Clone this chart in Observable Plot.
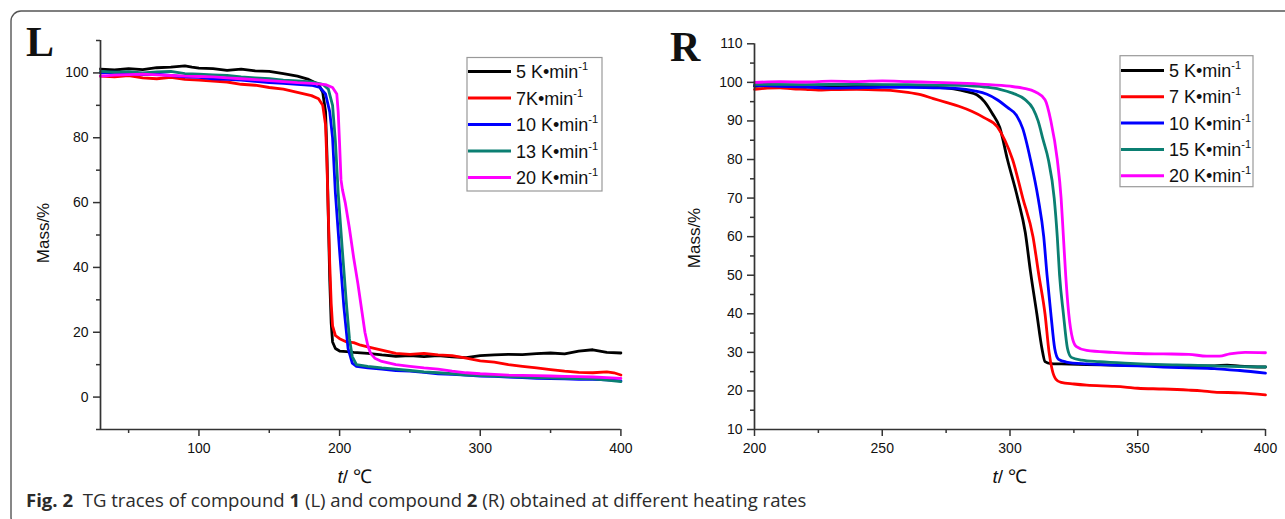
<!DOCTYPE html>
<html><head><meta charset="utf-8">
<script src="https://cdn.jsdelivr.net/npm/d3@7"></script>
<script src="https://cdn.jsdelivr.net/npm/@observablehq/plot@0.6"></script>
<style>
body{margin:0;background:#fff;}
#wrap{position:relative;width:1285px;height:519px;overflow:hidden;background:#fff;}
#wrap svg{position:absolute;left:0;top:0;}
</style></head><body><div id="wrap"></div>
<script>
// ---------- data ----------
const leftRates  = ["5 K•min", "7K•min", "10 K•min", "13 K•min", "20 K•min"];
const rightRates = ["5 K•min", "7 K•min", "10 K•min", "15 K•min", "20 K•min"];
const rateColors = ["#000000", "#ff0000", "#0000ff", "#0b7f72", "#ff00ff"];

// Compound 1 (L): [t /°C, mass /%]
const L_5K = [[30,101.2],[40,100.9],[50,101.3],[60,101.0],[70,101.6],[80,101.8],[90,102.2],[95,101.8],[100,101.5],[110,101.3],[120,100.8],[130,101.2],[140,100.6],[150,100.5],[160,99.8],[170,99.0],[178,98.0],[185,96.5],[188,94],[190,88],[191,75],[192,55],[193,36],[194,23],[195,17],[197,15],[200,14.2],[205,14],[210,13.8],[220,13.5],[230,13],[240,12.6],[250,12.8],[260,12.5],[270,12.8],[280,12.4],[290,12.2],[300,12.8],[310,13],[320,13.2],[330,13.1],[340,13.4],[350,13.6],[360,13.3],[370,14.2],[380,14.6],[390,13.8],[400,13.6]];
const L_7K = [[30,99],[40,98.8],[50,99.2],[60,98.5],[70,98.2],[80,98.6],[90,98],[100,97.8],[110,97.5],[120,97.2],[130,96.5],[140,96.2],[150,95.5],[160,95],[170,94],[180,93],[185,92],[188,90],[190,84],[191,72],[192,56],[193,41],[194,29],[195,22],[197,19],[200,18],[205,17],[210,16.8],[215,16],[220,15.5],[230,14.5],[240,13.5],[250,13.2],[260,13.5],[270,13],[280,12.8],[290,12],[300,11.2],[310,10.8],[320,10],[330,9.5],[340,9],[350,8.5],[360,8],[370,7.6],[380,7.5],[390,7.8],[395,7.5],[400,6.8]];
const L_10K = [[30,100],[40,100.2],[50,99.8],[60,99.5],[70,99.6],[80,99.2],[90,98.8],[100,98.6],[110,98.2],[120,98],[130,97.8],[140,97.4],[150,97],[160,96.8],[170,96.5],[180,96.2],[186,95.5],[190,93.5],[193,88],[195,80],[197,63],[200,45],[203,28],[206,15],[209,10.5],[212,9.5],[220,9],[230,8.6],[240,8.2],[250,8],[260,7.6],[270,7.2],[280,7],[290,6.8],[300,6.5],[310,6.4],[320,6.2],[330,6],[340,5.8],[350,5.7],[360,5.6],[370,5.5],[380,5.5],[390,5.3],[400,5]];
const L_13K = [[30,100.5],[40,100.2],[50,100.4],[60,100],[70,100.3],[80,100.5],[90,99.8],[100,99.6],[110,99.4],[120,99.2],[130,98.8],[140,98.5],[150,98.2],[160,97.8],[170,97.5],[180,97.2],[188,96.5],[192,95],[195,90],[197,79],[199,63],[202,45],[205,28],[207,18],[209,12.5],[212,10],[220,9.5],[230,9],[240,8.6],[250,8.2],[260,7.8],[270,7.5],[280,7.2],[290,6.8],[300,6.6],[310,6.5],[320,6.3],[330,6.2],[340,6],[350,5.9],[360,5.8],[370,5.7],[380,5.6],[390,5.2],[400,4.8]];
const L_20K = [[30,99],[40,99.3],[50,99.5],[60,99.6],[70,99.4],[80,99.2],[90,99],[100,98.9],[110,98.8],[120,98.5],[130,98.2],[140,97.9],[150,97.6],[160,97.3],[170,97],[180,96.8],[190,96.4],[195,95.5],[198,93.5],[199,88],[200,78],[201,67],[202,64],[204,60],[207,52],[210,43],[213,35],[216,26],[218,20],[220,16],[222,13.5],[225,12],[230,11],[240,10],[250,9.5],[260,9],[270,8.6],[280,8],[290,7.5],[300,7.2],[310,7],[320,6.8],[330,6.7],[340,6.6],[350,6.5],[360,6.4],[370,6.3],[380,6.2],[390,6],[400,5.8]];

// Compound 2 (R)
const R_5K = [[200,99],[210,99.2],[220,99],[230,98.8],[240,99],[250,99.1],[260,99],[270,98.8],[278,98.3],[283,97.6],[287,96.8],[290,95],[293,92],[296,88.3],[299,80],[303,70],[306,61],[308,51],[310.5,40],[312.5,31],[313.7,27.6],[316,27.1],[320,27],[330,26.8],[340,26.7],[350,26.6],[360,26.5],[370,26.5],[380,26.5],[385,26.7],[390,26.4],[400,26.2]];
const R_7K = [[200,98.2],[205,98.5],[210,98.6],[215,98.3],[220,98.2],[225,98],[230,98.1],[240,98.2],[250,98],[255,97.8],[260,97.4],[265,96.8],[270,95.8],[275,94.8],[280,93.8],[285,92.5],[290,90.8],[295,88.5],[298,85],[301,80],[305,70],[309,60],[311.3,50],[313.7,40],[315.3,30],[316.5,25.5],[318,23],[320,22.2],[325,21.8],[330,21.5],[340,21.2],[345,21],[350,20.7],[360,20.5],[370,20.2],[375,20],[380,19.7],[390,19.5],[400,19]];
const R_10K = [[200,99.2],[210,99],[220,98.8],[230,98.5],[240,98.6],[250,98.7],[260,98.7],[270,98.6],[280,98.4],[286,97.8],[291,96.9],[295,95.5],[299,93.5],[302.5,91.5],[305,88],[308,80],[311,70],[313.2,60],[314.5,50],[316,40],[317.5,31],[319,28.2],[322,27.5],[330,27],[340,26.7],[350,26.5],[360,26.2],[370,26],[380,25.8],[385,25.5],[390,25.3],[400,24.6]];
const R_15K = [[200,99.5],[220,99.4],[240,99.5],[260,99.4],[280,99.2],[290,98.8],[296,98.2],[301,97.2],[305.8,95.6],[309,93.2],[311,90],[313,85],[315,80],[317.3,70],[318.5,60],[319.4,50],[320.9,40],[322.5,31],[324,28.7],[328,28],[335,27.6],[345,27.2],[360,26.8],[370,26.7],[380,26.5],[390,26.3],[400,26.2]];
const R_20K = [[200,100],[210,100.2],[220,100.1],[230,100.3],[240,100.2],[250,100.4],[260,100.2],[270,100],[280,99.8],[290,99.5],[300,99],[305,98.5],[310,97.5],[313.7,95.5],[316,90],[318.5,80],[320,70],[320.9,60],[321.8,50],[323,40],[324.5,33.5],[326,31.5],[330,30.5],[340,30],[350,29.7],[360,29.6],[370,29.5],[377,29],[382,29],[386,29.6],[392,30],[400,29.9]];

// ticks
const leftXTicks = [100, 200, 300, 400];
const leftXMinor = [50, 150, 250, 350];
const leftYTicks = [0, 20, 40, 60, 80, 100];
const leftYMinor = [-10, 10, 30, 50, 70, 90, 110];
const rightXTicks = [200, 250, 300, 350, 400];
const rightXMinor = [225, 275, 325, 375];
const rightYTicks = [10, 20, 30, 40, 50, 60, 70, 80, 90, 100, 110];
const rightYMinor = [15, 25, 35, 45, 55, 65, 75, 85, 95, 105];

const panelLetters = ["L", "R"];
const yTitle = "Mass/%";
const captionParts = [["Fig. 2", true], ["  TG traces of compound ", false], ["1", true], [" (L) and compound ", false], ["2", true], [" (R) obtained at different heating rates", false]];

// ---------- build ----------
const toTable = (list, labels) => list.flatMap((s, i) => s.map(([t, m]) => ({t, m, rate: labels[i]})));
const leftData = toTable([L_5K, L_7K, L_10K, L_13K, L_20K], leftRates);
const rightData = toTable([R_5K, R_7K, R_10K, R_15K, R_20K], rightRates);

const W = 1285, H = 519;
const font = "'Liberation Sans', Arial, Helvetica, sans-serif";
const axisCol = "#333";

function panel(data, rates, xd, yd, m, xt, xm, yt, ym, curve) {
  return Plot.plot({
    width: W, height: H,
    marginLeft: m[0], marginRight: m[1], marginTop: m[2], marginBottom: m[3],
    x: {domain: xd, label: null},
    y: {domain: yd, label: null},
    color: {domain: rates, range: rateColors},
    style: {background: "transparent", fontFamily: font, fontSize: "14px", color: "#111", overflow: "visible"},
    marks: [
      Plot.line(data, {x: "t", y: "m", z: "rate", stroke: "rate", strokeWidth: 2.8, strokeLinejoin: "round", curve}),
      Plot.ruleX([xd[0]], {stroke: axisCol, strokeWidth: 1.7}),
      Plot.ruleY([yd[0]], {stroke: axisCol, strokeWidth: 1.7}),
      Plot.axisX(xt, {tickSize: 7, tickPadding: 7, stroke: axisCol, strokeWidth: 1.5, fill: "#111", label: null}),
      Plot.axisX(xm, {tickSize: 4, stroke: axisCol, strokeWidth: 1.5, tickFormat: () => "", label: null}),
      Plot.axisY(yt, {tickSize: 7, tickPadding: 5, stroke: axisCol, strokeWidth: 1.5, fill: "#111", label: null}),
      Plot.axisY(ym, {tickSize: 4, stroke: axisCol, strokeWidth: 1.5, tickFormat: () => "", label: null})
    ]
  });
}

const wrap = document.getElementById("wrap");

// overlay background (border)
const bg = d3.create("svg").attr("width", W).attr("height", H);
bg.append("rect").attr("x", 11).attr("y", 11).attr("width", W + 40).attr("height", 516)
  .attr("rx", 10).attr("fill", "none").attr("stroke", "#555").attr("stroke-width", 1.4);
wrap.appendChild(bg.node());

wrap.appendChild(panel(leftData, leftRates, [30, 400], [-10, 110], [100, W - 620.4, 40, H - 429],
  leftXTicks, leftXMinor, leftYTicks, leftYMinor, "linear"));
wrap.appendChild(panel(rightData, rightRates, [200, 400], [10, 110], [754, W - 1265, 43.3, H - 429],
  rightXTicks, rightXMinor, rightYTicks, rightYMinor, "monotone-x"));

// overlay annotations
const ov = d3.create("svg").attr("width", W).attr("height", H).style("font-family", font);
// panel letters
[[26, 56], [670, 61]].forEach(([x, y], i) => {
  ov.append("text").attr("x", x).attr("y", y).text(panelLetters[i])
    .attr("font-family", "'Liberation Serif', 'Times New Roman', serif").attr("font-weight", "bold")
    .attr("font-size", 42).attr("fill", "#111");
});
// y titles
[[43, 233], [694, 238]].forEach(([x, y]) => {
  ov.append("text").attr("transform", `translate(${x},${y}) rotate(-90)`).attr("text-anchor", "middle")
    .attr("dy", "0.35em").attr("font-size", 17).attr("fill", "#111").text(yTitle);
});
// x titles
[[355, 483], [1010, 483]].forEach(([x, y]) => {
  const t = ov.append("text").attr("x", x).attr("y", y).attr("text-anchor", "middle").attr("font-size", 19).attr("fill", "#111");
  t.append("tspan").attr("font-style", "italic").text("t");
  t.append("tspan").text("/ \u2103");
});
// legends
function legend(x, y, w, h, rows, labels) {
  const g = ov.append("g");
  g.append("rect").attr("x", x).attr("y", y).attr("width", w).attr("height", h)
    .attr("fill", "#fff").attr("stroke", "#999").attr("stroke-width", 1.2);
  labels.forEach((lab, i) => {
    const ry = rows[i];
    g.append("line").attr("x1", x + 1).attr("x2", x + 44).attr("y1", ry).attr("y2", ry)
      .attr("stroke", rateColors[i]).attr("stroke-width", 3);
    const t = g.append("text").attr("x", x + 49).attr("y", ry + 6.5).attr("font-size", 18).attr("fill", "#111");
    t.append("tspan").text(lab);
    t.append("tspan").attr("font-size", 11).attr("dy", -8).text("-1");
  });
}
legend(467, 57.5, 135, 133.5, [71.5, 98, 124.5, 151, 177.5], leftRates);
legend(1120, 55.7, 133, 131, [70.5, 96.8, 123, 149.4, 175.8], rightRates);

// caption
const cap = ov.append("text").attr("x", 26).attr("y", 507).attr("font-family", "'Open Sans', 'Noto Sans', sans-serif")
  .attr("font-size", 16).attr("fill", "#2b2b2b");
captionParts.forEach(([s, b]) => cap.append("tspan").attr("font-weight", b ? "bold" : "normal").attr("xml:space", "preserve").style("white-space", "pre").text(s));
wrap.appendChild(ov.node());
const cw = cap.node().getComputedTextLength();
cap.attr("font-size", 16 * 781 / cw);
</script></body></html>
